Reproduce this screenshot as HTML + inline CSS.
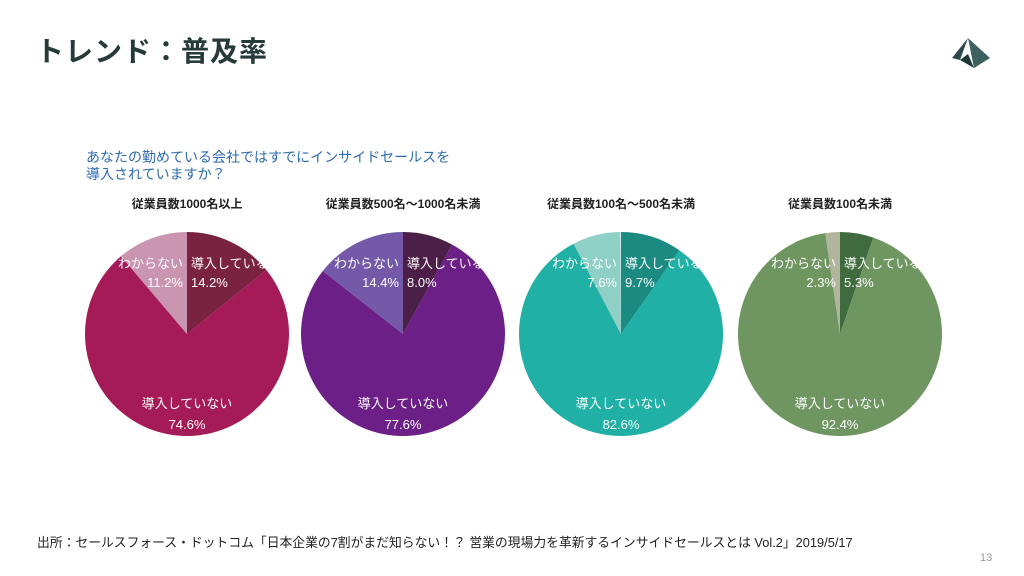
<!DOCTYPE html>
<html><head><meta charset="utf-8"><style>
body{margin:0;width:1024px;height:576px;background:#fff;font-family:"Liberation Sans","Noto Sans CJK JP",sans-serif;overflow:hidden;position:relative}
.t{position:absolute}
</style></head><body>
<div class="t" style="left:36px;top:30px;font-size:28px;font-weight:bold;color:#263a3a;letter-spacing:1px">トレンド：普及率</div>
<svg class="t" style="left:948px;top:36px" width="44" height="34" viewBox="0 0 44 34"><polygon points="20,2 42,22 26,32" fill="#3d6163"/><polygon points="20,2 4,22 12,24" fill="#2c4a4c"/><polygon points="12,24 20,18 26,32" fill="#1f3637"/></svg>
<div class="t" style="left:86px;top:149px;font-size:14px;line-height:17px;color:#2e6bb0">あなたの勤めている会社ではすでにインサイドセールスを<br>導入されていますか？</div>
<svg class="t" style="left:0;top:0" width="1024" height="576" id="ch"></svg>
<div class="t" style="left:37px;top:532px;font-size:12.8px;color:#222">出所：セールスフォース・ドットコム「日本企業の7割がまだ知らない！？ 営業の現場力を革新するインサイドセールスとは Vol.2」2019/5/17</div>
<div class="t" style="left:980px;top:552px;font-size:11px;color:#999">13</div>
<script>
const groups=["従業員数1000名以上","従業員数500名～1000名未満","従業員数100名～500名未満","従業員数100名未満"];
const adopted=[14.2,8.0,9.7,5.3];
const notAdopted=[74.6,77.6,82.6,92.4];
const unknown=[11.2,14.4,7.6,2.3];
const colors=[["#7a2340","#a51b57","#c995b0"],["#4b1f47","#6c1f86","#7459a8"],["#1b8a80","#20b0a5","#8ecfc6"],["#3f6b3e","#6f9661","#b2b59e"]];
const cxs=[187,403,621,840],cy=334,R=102;
const svg=document.getElementById('ch');const NS="http://www.w3.org/2000/svg";
function pt(a,r,cx){return [cx+r*Math.sin(a),cy-r*Math.cos(a)];}
function txt(x,y,s,anchor,size,fill,name,w){const t=document.createElementNS(NS,'text');t.setAttribute('x',x);t.setAttribute('y',y);t.setAttribute('text-anchor',anchor);t.setAttribute('font-size',size);t.setAttribute('fill',fill);if(w)t.setAttribute('font-weight',w);t.textContent=s;


svg.appendChild(t);}
groups.forEach((g,i)=>{const cx=cxs[i];const vals=[adopted[i],notAdopted[i],unknown[i]];const names=['slice-adopted','slice-not-adopted','slice-unknown'];
let a=0;vals.forEach((v,j)=>{const a2=a+v/100*2*Math.PI;const p1=pt(a,R,cx),p2=pt(a2,R,cx);const p=document.createElementNS(NS,'path');
p.setAttribute('d',`M${cx},${cy}L${p1[0]},${p1[1]}A${R},${R} 0 ${a2-a>Math.PI?1:0} 1 ${p2[0]},${p2[1]}Z`);p.setAttribute('fill',colors[i][j]);


svg.appendChild(p);a=a2;});
txt(cx,208,g,'middle',12,'#222','pie-title','bold');
txt(cx+4,268,'導入している','start',13,'#fff','label-adopted');
txt(cx+4,287,adopted[i].toFixed(1)+'%','start',13,'#fff','value-adopted');
txt(cx-4,268,'わからない','end',13,'#fff','label-unknown');
txt(cx-4,287,unknown[i].toFixed(1)+'%','end',13,'#fff','value-unknown');
txt(cx,408,'導入していない','middle',13,'#fff','label-not-adopted');
txt(cx,429,notAdopted[i].toFixed(1)+'%','middle',13,'#fff','value-not-adopted');
});
</script>
</body></html>
